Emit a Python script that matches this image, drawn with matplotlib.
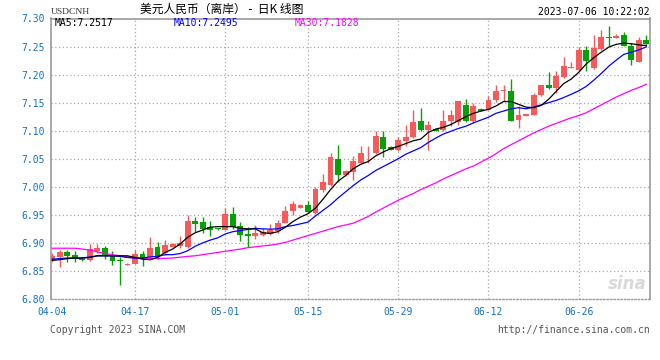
import numpy as np
import matplotlib
matplotlib.use("Agg")
import matplotlib.pyplot as plt

# daily candles, 04-04 .. 07-06 (index based x axis)
opens = [6.8685, 6.8756, 6.8839, 6.8786, 6.8720, 6.8700, 6.8857, 6.8917, 6.8774, 6.8703,
         6.8613, 6.8631, 6.8804, 6.8756, 6.8929, 6.8828, 6.8934, 6.8946, 6.8934, 6.9399,
         6.9381, 6.9291, 6.9256, 6.9232, 6.9518, 6.9309, 6.9161, 6.9125, 6.9143, 6.9161,
         6.9214, 6.9363, 6.9560, 6.9631, 6.9679, 6.9530, 6.9935, 7.0036, 7.0494, 7.0202,
         7.0256, 7.0423, 7.0595, 7.0601, 7.0887, 7.0708, 7.0649, 7.0810, 7.0881, 7.1167,
         7.1018, 7.1030, 7.1006, 7.1167, 7.1149, 7.1464, 7.1167, 7.1387, 7.1375, 7.1554,
         7.1702, 7.1714, 7.1196, 7.1270, 7.1286, 7.1631, 7.1809, 7.1762, 7.1952, 7.2119,
         7.2089, 7.2446, 7.2119, 7.2452, 7.2673, 7.2660, 7.2714, 7.2518, 7.2226, 7.2625]
highs = [6.8820, 6.8875, 6.8875, 6.8863, 6.8744, 6.8976, 6.8988, 6.8952, 6.8857, 6.8744,
         6.8650, 6.8875, 6.8857, 6.9113, 6.9018, 6.9054, 6.8990, 6.9125, 6.9500, 6.9470,
         6.9470, 6.9393, 6.9262, 6.9625, 6.9643, 6.9380, 6.9292, 6.9321, 6.9260, 6.9339,
         6.9410, 6.9649, 6.9738, 6.9697, 6.9750, 6.9994, 7.0232, 7.0601, 7.0750, 7.0304,
         7.0542, 7.0720, 7.0732, 7.0988, 7.1000, 7.0732, 7.0887, 7.1107, 7.1363, 7.1405,
         7.1167, 7.1042, 7.1375, 7.1375, 7.1536, 7.1571, 7.1494, 7.1405, 7.1625, 7.1810,
         7.1821, 7.1929, 7.1435, 7.1300, 7.1673, 7.1815, 7.2047, 7.2059, 7.2309, 7.2220,
         7.2488, 7.2506, 7.2714, 7.2791, 7.2875, 7.2726, 7.2756, 7.2565, 7.2666, 7.2702]
lows = [6.8660, 6.8578, 6.8661, 6.8667, 6.8673, 6.8679, 6.8816, 6.8708, 6.8607, 6.8250,
        6.8600, 6.8625, 6.8595, 6.8697, 6.8708, 6.8786, 6.8930, 6.8916, 6.8916, 6.9202,
        6.9170, 6.9131, 6.9238, 6.9232, 6.9250, 6.9041, 6.8934, 6.9065, 6.9130, 6.9143,
        6.9173, 6.9352, 6.9501, 6.9619, 6.9530, 6.9512, 6.9899, 7.0018, 7.0077, 7.0185,
        7.0113, 7.0411, 7.0423, 7.0589, 7.0530, 7.0649, 7.0637, 7.0720, 7.0869, 7.0988,
        7.0649, 7.0994, 7.0988, 7.1077, 7.1107, 7.1149, 7.1137, 7.1345, 7.1363, 7.1506,
        7.1524, 7.1167, 7.1048, 7.1265, 7.1286, 7.1620, 7.1750, 7.1673, 7.1940, 7.2119,
        7.2060, 7.2060, 7.2107, 7.2435, 7.2506, 7.2655, 7.2506, 7.2179, 7.2220, 7.2536]
closes = [6.8768, 6.8839, 6.8768, 6.8720, 6.8700, 6.8887, 6.8917, 6.8786, 6.8685, 6.8685,
          6.8631, 6.8804, 6.8726, 6.8917, 6.8768, 6.8964, 6.8982, 6.8999, 6.9399, 6.9345,
          6.9250, 6.9232, 6.9244, 6.9518, 6.9291, 6.9143, 6.9125, 6.9179, 6.9190, 6.9232,
          6.9357, 6.9572, 6.9697, 6.9673, 6.9554, 6.9965, 7.0077, 7.0524, 7.0202, 7.0274,
          7.0452, 7.0601, 7.0601, 7.0911, 7.0673, 7.0660, 7.0840, 7.0887, 7.1149, 7.1018,
          7.1107, 7.1000, 7.1179, 7.1286, 7.1524, 7.1167, 7.1435, 7.1357, 7.1554, 7.1714,
          7.1714, 7.1179, 7.1286, 7.1300, 7.1643, 7.1809, 7.1762, 7.1970, 7.2149, 7.2131,
          7.2446, 7.2238, 7.2476, 7.2673, 7.2655, 7.2696, 7.2518, 7.2268, 7.2625, 7.2554]

# moving averages
ma5 = [6.869, 6.870, 6.872, 6.873, 6.873, 6.874, 6.877, 6.877, 6.877, 6.877,
       6.877, 6.874, 6.871, 6.870, 6.874, 6.883, 6.889, 6.898, 6.910, 6.918,
       6.923, 6.928, 6.929, 6.929, 6.929, 6.926, 6.925, 6.925, 6.918, 6.917,
       6.920, 6.928, 6.938, 6.946, 6.952, 6.962, 6.978, 6.995, 7.010, 7.020,
       7.032, 7.040, 7.045, 7.055, 7.062, 7.068, 7.072, 7.077, 7.082, 7.085,
       7.097, 7.103, 7.106, 7.111, 7.118, 7.125, 7.131, 7.135, 7.138, 7.144,
       7.152, 7.152, 7.147, 7.142, 7.141, 7.145, 7.156, 7.170, 7.184, 7.192,
       7.204, 7.219, 7.230, 7.240, 7.249, 7.254, 7.256, 7.255, 7.253, 7.2517]
ma10 = [6.871, 6.872, 6.873, 6.873, 6.873, 6.875, 6.877, 6.877, 6.877, 6.876,
        6.874, 6.873, 6.873, 6.875, 6.876, 6.879, 6.879, 6.881, 6.886, 6.894,
        6.900, 6.905, 6.909, 6.916, 6.920, 6.922, 6.924, 6.926, 6.925, 6.9245,
        6.925, 6.929, 6.931, 6.934, 6.937, 6.948, 6.958, 6.968, 6.980, 6.991,
        7.002, 7.012, 7.020, 7.029, 7.036, 7.043, 7.050, 7.058, 7.064, 7.070,
        7.079, 7.087, 7.094, 7.099, 7.104, 7.108, 7.114, 7.119, 7.124, 7.131,
        7.135, 7.139, 7.141, 7.139, 7.142, 7.146, 7.150, 7.154, 7.159, 7.165,
        7.171, 7.179, 7.190, 7.202, 7.215, 7.226, 7.236, 7.240, 7.244, 7.2495]
ma30 = [6.8905, 6.8905, 6.8905, 6.8905, 6.889, 6.887, 6.884, 6.881, 6.879, 6.877,
        6.875, 6.873, 6.873, 6.872, 6.872, 6.8725, 6.873, 6.8745, 6.876, 6.877,
        6.879, 6.881, 6.883, 6.885, 6.887, 6.889, 6.8915, 6.893, 6.8945, 6.896,
        6.898, 6.901, 6.905, 6.909, 6.913, 6.917, 6.921, 6.925, 6.929, 6.932,
        6.935, 6.941, 6.947, 6.955, 6.962, 6.969, 6.976, 6.982, 6.988, 6.995,
        7.001, 7.007, 7.014, 7.020, 7.026, 7.032, 7.037, 7.044, 7.051, 7.059,
        7.068, 7.075, 7.082, 7.089, 7.096, 7.102, 7.108, 7.113, 7.118, 7.123,
        7.127, 7.132, 7.139, 7.146, 7.153, 7.160, 7.166, 7.172, 7.177, 7.1828]

tick_idx = [0, 11, 23, 34, 46, 58, 70]
tick_labels = ["04-04", "04-17", "05-01", "05-15", "05-29", "06-12", "06-26"]
y_ticks = [6.80, 6.85, 6.90, 6.95, 7.00, 7.05, 7.10, 7.15, 7.20, 7.25, 7.30]

RED = "#f65a5a"
GREEN = "#05a005"
BLUE_TXT = "#1470c8"
GRID = "#a8a8a8"
MONO = "DejaVu Sans Mono"

o = np.array(opens); h = np.array(highs); l = np.array(lows); c = np.array(closes)
x = np.arange(len(o))
cols = [RED if cc >= oo else GREEN for oo, cc in zip(o, c)]

fig = plt.figure(figsize=(6.6, 3.6), dpi=100)
ax = fig.add_axes([50.7 / 660, 61 / 360, 599.3 / 660, 280.5 / 360])

# grid
for yv in y_ticks[1:-1]:
    ax.axhline(yv, color=GRID, lw=0.9, ls=(0, (1, 2)), zorder=0)
for xv in tick_idx[1:]:
    ax.axvline(xv, color=GRID, lw=0.9, ls=(0, (1, 2)), zorder=0)

# candles
ax.vlines(x, l, h, colors=cols, lw=1.0, zorder=2)
body = np.maximum(np.abs(c - o), 0.0016)
ax.bar(x, body, bottom=np.minimum(o, c), width=0.78, color=cols, linewidth=0, zorder=3)

# moving averages
ax.plot(x, ma30, color="#ff00ff", lw=0.9, zorder=4)
ax.plot(x, ma10, color="#0000ff", lw=0.9, zorder=4)
ax.plot(x, ma5, color="black", lw=0.9, zorder=5)

ax.set_xlim(-0.21, 79.48)
ax.set_ylim(6.80, 7.30)
ax.set_yticks(y_ticks)
ax.set_yticklabels(["%.2f" % v for v in y_ticks], family=MONO, fontsize=7, color=BLUE_TXT)
ax.set_xticks(tick_idx)
ax.set_xticklabels(tick_labels, family=MONO, fontsize=7, color=BLUE_TXT)
ax.tick_params(length=0, pad=4)
ax.tick_params(axis="x", pad=6)

for side in ["left", "top", "right"]:
    ax.spines[side].set_color("#999999")
    ax.spines[side].set_linewidth(1.2)
ax.spines["bottom"].set_color("#999999")
ax.spines["bottom"].set_linestyle((0, (1, 1.5)))
ax.spines["bottom"].set_linewidth(1.0)

# MA values inside the plot
ax.text(55 / 660, 1 - 23 / 360, "MA5:7.2517", transform=fig.transFigure, family=MONO,
        fontsize=7, color="black", va="center")
ax.text(174 / 660, 1 - 23 / 360, "MA10:7.2495", transform=fig.transFigure, family=MONO,
        fontsize=7, color="#0000ff", va="center")
ax.text(295 / 660, 1 - 23 / 360, "MA30:7.1828", transform=fig.transFigure, family=MONO,
        fontsize=7, color="#ff00ff", va="center")

# watermark
ax.text(0.995, 0.02, "sina", transform=ax.transAxes, fontsize=12, fontweight="bold",
        style="italic", color="#d9d9d9", ha="right", va="bottom", zorder=1)

# header
fig.text(51 / 660, 1 - 12 / 360, "USDCNH", family="Liberation Serif", fontsize=6.8,
         color="#333333", va="center")
fig.text(140 / 660, 1 - 9 / 360, "美元人民币（离岸） -  日K 线图",
         family=["Noto Sans CJK SC", "DejaVu Sans"], fontsize=8.5, color="black", va="center")
fig.text(650 / 660, 1 - 12 / 360, "2023-07-06 10:22:02", family=MONO, fontsize=7,
         color="black", va="center", ha="right")

# footer
fig.text(50 / 660, 1 - 330 / 360, "Copyright 2023 SINA.COM", family=MONO, fontsize=7,
         color="#555555", va="center")
fig.text(650 / 660, 1 - 330 / 360, "http://finance.sina.com.cn", family=MONO, fontsize=7,
         color="#555555", va="center", ha="right")

fig.savefig("out.png", dpi=100)
